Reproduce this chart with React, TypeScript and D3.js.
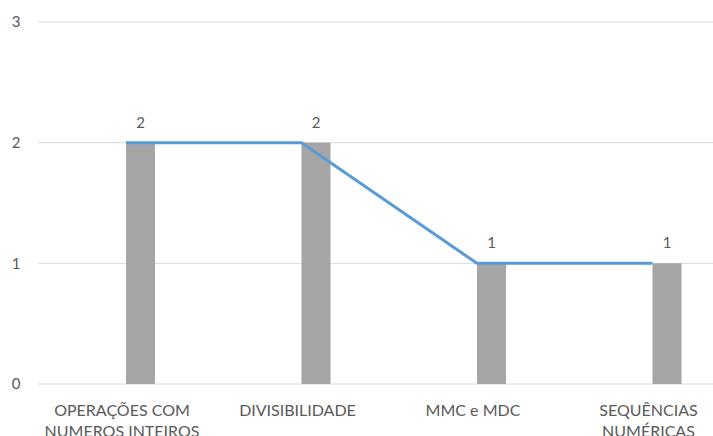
import React from "react";
import * as d3 from "d3";

const categories: string[][] = [
  ["OPERAÇÕES COM", "NUMEROS INTEIROS"],
  ["DIVISIBILIDADE"],
  ["MMC e MDC"],
  ["SEQUÊNCIAS", "NUMÉRICAS"],
];
const barValues: number[] = [2, 2, 1, 1];
const lineValues: number[] = [2, 2, 1, 1];
const yTicks: number[] = [0, 1, 2, 3];

const W = 713;
const H = 436;
const FONT = "Lato, 'Open Sans', sans-serif";
const TEXT = "#595959";

export default function App() {
  const keys = categories.map((c) => c.join(" "));
  const x = d3.scalePoint<string>().domain(keys).range([126, 652.5]);
  const y = d3.scaleLinear().domain([0, 3]).range([384, 22]);
  const barW = 29;
  const line = d3
    .line<number>()
    .x((_, i) => x(keys[i]) as number)
    .y((d) => y(d));

  return (
    <div style={{ position: "fixed", left: 0, top: 0 }}>
      <svg width={W} height={H} style={{ display: "block", background: "#fff" }}>
        {yTicks.map((t) => (
          <g key={t}>
            <line x1={38} x2={W} y1={y(t)} y2={y(t)} stroke="#D9D9D9" strokeWidth={1} />
            <text
              x={16}
              y={y(t)}
              dy="0.35em"
              textAnchor="middle"
              fontFamily={FONT}
              fontSize={15}
              fill={TEXT}
            >
              {t}
            </text>
          </g>
        ))}
        {barValues.map((v, i) => (
          <rect
            key={i}
            x={x(keys[i]) as number}
            y={y(v)}
            width={barW}
            height={y(0) - y(v)}
            fill="#A5A5A5"
          />
        ))}
        <path d={line(lineValues) || ""} fill="none" stroke="#5B9BD5" strokeWidth={3} strokeLinejoin="round" />
        {barValues.map((v, i) => (
          <text
            key={i}
            x={(x(keys[i]) as number) + barW / 2}
            y={y(v) - 15}
            textAnchor="middle"
            fontFamily={FONT}
            fontSize={15}
            fill={TEXT}
          >
            {v}
          </text>
        ))}
        {categories.map((lines, i) => (
          <text
            key={i}
            x={(x(keys[i]) as number) - 4}
            y={416}
            textAnchor="middle"
            fontFamily={FONT}
            fontSize={16}
            fill={TEXT}
          >
            {lines.map((l, j) => (
              <tspan key={j} x={(x(keys[i]) as number) - 4} dy={j === 0 ? 0 : 21}>
                {l}
              </tspan>
            ))}
          </text>
        ))}
      </svg>
    </div>
  );
}
